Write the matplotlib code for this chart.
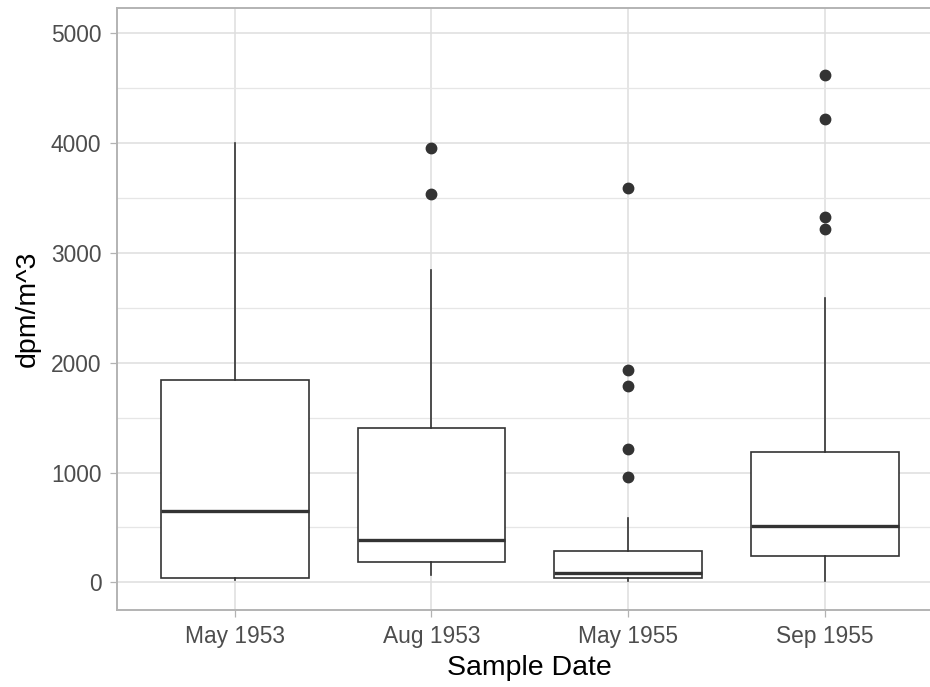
import matplotlib
matplotlib.use("Agg")
import matplotlib.pyplot as plt
from matplotlib.ticker import MultipleLocator

# values (dpm/m^3)
dates = ["May 1953", "Aug 1953", "May 1955", "Sep 1955"]
whisker_low = [20, 66, 15, 10]
q1 = [39, 182, 39, 237]
median = [647, 388, 82, 517]
q3 = [1840, 1402, 288, 1187]
whisker_high = [4000, 2844, 588, 2594]
outliers = [
    [],
    [3953, 3534],
    [3588, 1931, 1785, 1217, 962],
    [4623, 4221, 3324, 3216],
]

plt.rcParams["font.family"] = ["Liberation Sans", "DejaVu Sans"]

fig = plt.figure(figsize=(9.3, 6.87), dpi=100)
ax = fig.add_axes([116.7 / 930, 1 - 610 / 687, (943 - 116.7) / 930, (610 - 8) / 687])

stats = []
for i, d in enumerate(dates):
    stats.append({
        "label": d,
        "whislo": whisker_low[i],
        "q1": q1[i],
        "med": median[i],
        "q3": q3[i],
        "whishi": whisker_high[i],
        "fliers": outliers[i],
    })

line_col = "#333333"
ax.bxp(stats, positions=range(1, len(dates) + 1), widths=0.75,
       showcaps=False, patch_artist=True,
       boxprops=dict(facecolor="white", edgecolor=line_col, linewidth=1.2),
       whiskerprops=dict(color=line_col, linewidth=1.2),
       medianprops=dict(color=line_col, linewidth=2.4, solid_capstyle="butt"),
       flierprops=dict(marker="o", markerfacecolor=line_col, markeredgecolor=line_col,
                       markersize=7.5, linestyle="none"),
       zorder=3)

ax.set_xlim(0.4, 4.6)
ax.set_ylim(-252, 5232)
ax.yaxis.set_major_locator(MultipleLocator(1000))
ax.yaxis.set_minor_locator(MultipleLocator(500))

ax.grid(which="major", color="#dedede", linewidth=1.1, zorder=0)
ax.grid(which="minor", axis="y", color="#e6e6e6", linewidth=0.9, zorder=0)
ax.set_axisbelow(True)

for s in ax.spines.values():
    s.set_color("#b3b3b3")
    s.set_linewidth(1.4)

ax.tick_params(which="major", length=5, width=0.9, color="#b3b3b3",
               labelsize=16.4, labelcolor="#4d4d4d", pad=6)
ax.tick_params(which="minor", length=0)

ax.set_xlabel("Sample Date", fontsize=20.5, color="black", labelpad=5)
ax.set_ylabel("dpm/m^3", fontsize=20.5, color="black", labelpad=7.5)

fig.savefig("out.png", dpi=100)
